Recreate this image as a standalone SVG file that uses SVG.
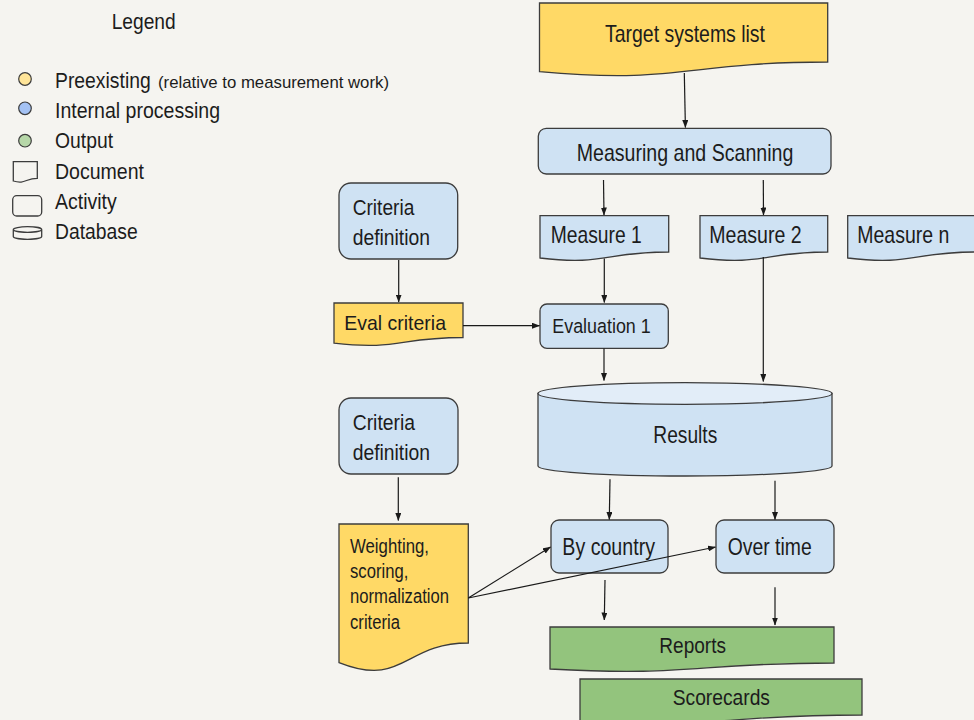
<svg xmlns="http://www.w3.org/2000/svg" width="974" height="720" viewBox="0 0 974 720">
<defs>
<style>
.t{font-family:"Liberation Sans",Arial,sans-serif;fill:#1c1c1c}
.yel{fill:#ffd966;stroke:#3c3c3c;stroke-width:1.3}
.blu{fill:#cfe2f3;stroke:#3c3c3c;stroke-width:1.3}
.grn{fill:#93c47d;stroke:#3c3c3c;stroke-width:1.3}
.ico{fill:none;stroke:#3c3c3c;stroke-width:1.3}
.c{fill:none;stroke:#1a1a1a;stroke-width:1.2;marker-end:url(#ah)}
</style>
<marker id="ah" markerUnits="userSpaceOnUse" markerWidth="8" markerHeight="6" refX="7.5" refY="3" orient="auto">
<path d="M0,0 L8,3 L0,6 z" fill="#1a1a1a"/>
</marker>
</defs>
<rect width="974" height="720" fill="#f5f4f0"/>

<g id="legend">
<text class="t" x="111.7" y="29" font-size="22" textLength="64" lengthAdjust="spacingAndGlyphs">Legend</text>
<circle cx="25" cy="79" r="6.3" fill="#ffe599" stroke="#3c3c3c" stroke-width="1.2"/>
<circle cx="25" cy="108.3" r="6.3" fill="#a4c2f4" stroke="#3c3c3c" stroke-width="1.2"/>
<circle cx="25" cy="140.7" r="6.3" fill="#b6d7a8" stroke="#3c3c3c" stroke-width="1.2"/>
<text class="t" x="55" y="88" font-size="22.5" textLength="95.7" lengthAdjust="spacingAndGlyphs">Preexisting</text>
<text class="t" x="158" y="88" font-size="17" textLength="231" lengthAdjust="spacingAndGlyphs">(relative to measurement work)</text>
<text class="t" x="55" y="118.3" font-size="22.5" textLength="165" lengthAdjust="spacingAndGlyphs">Internal processing</text>
<text class="t" x="55" y="148" font-size="22.5" textLength="58" lengthAdjust="spacingAndGlyphs">Output</text>
<text class="t" x="55" y="179" font-size="22.5" textLength="89" lengthAdjust="spacingAndGlyphs">Document</text>
<text class="t" x="55" y="208.5" font-size="22.5" textLength="61.7" lengthAdjust="spacingAndGlyphs">Activity</text>
<text class="t" x="55" y="239" font-size="22.5" textLength="82.7" lengthAdjust="spacingAndGlyphs">Database</text>
<path class="ico" d="M13.3,161.7 H37.3 V178.3 C25.3,178.3 25.3,184.6 13.3,181 Z"/>
<rect class="ico" x="12.7" y="195.7" width="29" height="20.3" rx="4"/>
<path class="ico" d="M13.3,229.5 V236.5 A14.2,2.8 0 0 0 41.7,236.5 V229.5 A14.2,2.8 0 0 0 13.3,229.5 A14.2,2.8 0 0 0 41.7,229.5"/>
</g>

<g id="target">
<path class="yel" d="M539.5,3 H827.7 V62 C683.6,62 683.6,84.5 539.5,71.7 Z"/>
<text class="t" x="605" y="42" font-size="24" textLength="160" lengthAdjust="spacingAndGlyphs">Target systems list</text>
</g>

<g id="measuring">
<rect class="blu" x="538.3" y="128.3" width="292.7" height="45.7" rx="8"/>
<text class="t" x="576.7" y="161" font-size="24" textLength="216.6" lengthAdjust="spacingAndGlyphs">Measuring and Scanning</text>
</g>

<g id="measure1">
<path class="blu" d="M540,215.7 H668.7 V252 C604.3,252 604.3,265.8 540,258 Z"/>
<text class="t" x="550.7" y="243.3" font-size="24" textLength="91" lengthAdjust="spacingAndGlyphs">Measure 1</text>
</g>
<g id="measure2">
<path class="blu" d="M700,215.7 H827.7 V252 C763.8,252 763.8,265.8 700,258 Z"/>
<text class="t" x="709.3" y="243.3" font-size="24" textLength="92.4" lengthAdjust="spacingAndGlyphs">Measure 2</text>
</g>
<g id="measuren">
<path class="blu" d="M847.7,215.7 H976 V252 C911.8,252 911.8,265.8 847.7,258 Z"/>
<text class="t" x="857.3" y="243.3" font-size="24" textLength="92" lengthAdjust="spacingAndGlyphs">Measure n</text>
</g>

<g id="criteria1">
<rect class="blu" x="339" y="183" width="118.7" height="76" rx="12"/>
<text class="t" x="352.7" y="215" font-size="22.5" textLength="61.6" lengthAdjust="spacingAndGlyphs">Criteria</text>
<text class="t" x="352.7" y="245" font-size="22.5" textLength="77.3" lengthAdjust="spacingAndGlyphs">definition</text>
</g>

<g id="evalcriteria">
<path class="yel" d="M334,303 H463 V337.5 C398.5,337.5 398.5,350.6 334,343.2 Z"/>
<text class="t" x="344.3" y="330" font-size="21" textLength="101.7" lengthAdjust="spacingAndGlyphs">Eval criteria</text>
</g>

<g id="evaluation1">
<rect class="blu" x="540" y="304" width="128.3" height="44.3" rx="7"/>
<text class="t" x="552.3" y="333.3" font-size="20.5" textLength="98.4" lengthAdjust="spacingAndGlyphs">Evaluation 1</text>
</g>

<g id="results">
<path class="blu" d="M538,393.5 V466 A147,10 0 0 0 832,466 V393.5 Z"/>
<ellipse cx="685" cy="393.5" rx="147" ry="10.8" fill="#e2edf8" stroke="#3c3c3c" stroke-width="1.3"/>
<text class="t" x="653.3" y="443.3" font-size="23" textLength="64" lengthAdjust="spacingAndGlyphs">Results</text>
</g>

<g id="criteria2">
<rect class="blu" x="339" y="398" width="119" height="76" rx="12"/>
<text class="t" x="352.7" y="430" font-size="22.5" textLength="62.3" lengthAdjust="spacingAndGlyphs">Criteria</text>
<text class="t" x="352.7" y="460" font-size="22.5" textLength="77.3" lengthAdjust="spacingAndGlyphs">definition</text>
</g>

<g id="weighting">
<path class="yel" d="M339,524 H468.3 V643 C403.6,643 403.6,688.3 339,662.6 Z"/>
<text class="t" x="350" y="553.3" font-size="20" textLength="79" lengthAdjust="spacingAndGlyphs">Weighting,</text>
<text class="t" x="350" y="578.3" font-size="20" textLength="58.3" lengthAdjust="spacingAndGlyphs">scoring,</text>
<text class="t" x="350" y="603.3" font-size="20" textLength="99" lengthAdjust="spacingAndGlyphs">normalization</text>
<text class="t" x="350" y="629.3" font-size="20" textLength="50" lengthAdjust="spacingAndGlyphs">criteria</text>
</g>

<g id="bycountry">
<rect class="blu" x="551" y="520" width="117" height="53" rx="8"/>
<text class="t" x="562.3" y="555" font-size="23" textLength="92.7" lengthAdjust="spacingAndGlyphs">By country</text>
</g>

<g id="overtime">
<rect class="blu" x="716" y="520" width="118" height="53" rx="8"/>
<text class="t" x="727.7" y="555" font-size="23" textLength="84" lengthAdjust="spacingAndGlyphs">Over time</text>
</g>

<g id="reports">
<path class="grn" d="M550,627 H834 V663 C692,663 692,676.8 550,669 Z"/>
<text class="t" x="659.3" y="653.3" font-size="21.5" textLength="66.7" lengthAdjust="spacingAndGlyphs">Reports</text>
</g>

<g id="scorecards">
<path class="grn" d="M580,679 H862 V715 C721,715 721,728.8 580,721 Z"/>
<text class="t" x="672.7" y="705" font-size="21.5" textLength="97.3" lengthAdjust="spacingAndGlyphs">Scorecards</text>
</g>

<g id="connectors">
<path class="c" d="M684.3,73 L685.4,127.5"/>
<path class="c" d="M603.5,180 L604,215"/>
<path class="c" d="M763.3,180 L763.5,215"/>
<path class="c" d="M604.3,258.5 L604.3,302.5"/>
<path class="c" d="M763.3,257 L763.3,381.5"/>
<path class="c" d="M604,348.5 L604,380.5"/>
<path class="c" d="M398.7,260 L398.7,302"/>
<path class="c" d="M463,325.7 L539.5,325.7"/>
<path class="c" d="M398.3,477.3 L398.3,520.5"/>
<path class="c" d="M610,479.3 L609.3,519.5"/>
<path class="c" d="M775,480.7 L775,519.5"/>
<path class="c" d="M605,580 L604.3,620"/>
<path class="c" d="M775,587.3 L775,625"/>
<path class="c" d="M468.3,598 L550.5,547"/>
<path class="c" d="M468.3,598 L715.5,547"/>
</g>
</svg>
